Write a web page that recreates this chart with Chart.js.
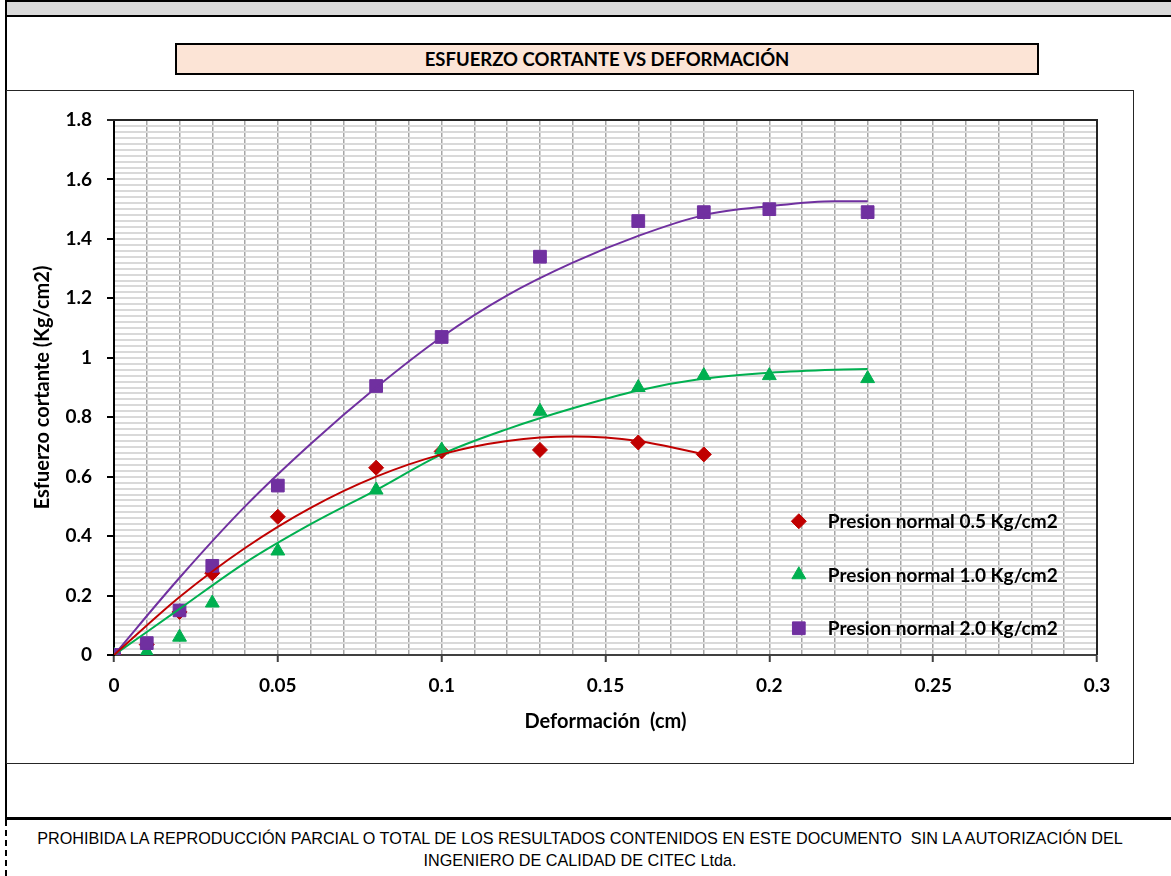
<!DOCTYPE html>
<html>
<head>
<meta charset="utf-8">
<script src="https://cdn.jsdelivr.net/npm/chart.js@4.4.1/dist/chart.umd.min.js"></script>
<style>
  body { margin: 0; background: #fff; width: 1171px; height: 876px; position: relative; overflow: hidden; }
  .abs { position: absolute; box-sizing: border-box; }
  #band { left: 6px; top: 0; width: 1165px; height: 17px; background: #d9d9d9; border-top: 2px solid #000; border-bottom: 2px solid #000; }
  #leftRule { left: 5px; top: 0; width: 2px; height: 820px; background: #000; }
  #leftDash { left: 5px; top: 820px; width: 0; height: 56px; border-left: 2px dashed #000; }
  #titleBox { left: 175px; top: 43px; width: 864px; height: 32px; background: #fce4d6; border: 2px solid #000;
              font: bold 18.5px "Lato", "Liberation Sans", sans-serif; text-align: center; line-height: 28px; color: #000; }
  #chartBox { left: 6px; top: 90px; width: 1128px; height: 674px; border: 1.5px solid #262626; pointer-events: none; }
  #bottomRule { left: 6px; top: 817px; width: 1165px; height: 3px; background: #000; }
  #footer { left: 6px; top: 827px; width: 1148px; font: 16.2px "Liberation Sans", Arial, sans-serif; text-align: center; line-height: 22px; color: #000; }
  #cv { position: absolute; left: 6px; top: 91px; }
</style>
</head>
<body>
<div class="abs" id="band"></div>
<div class="abs" id="leftRule"></div>
<div class="abs" id="leftDash"></div>
<div class="abs" id="titleBox">ESFUERZO CORTANTE VS DEFORMACIÓN</div>
<canvas id="cv" width="1127" height="672"></canvas>
<div class="abs" id="chartBox"></div>
<div class="abs" id="bottomRule"></div>
<div class="abs" id="footer">PROHIBIDA LA REPRODUCCIÓN PARCIAL O TOTAL DE LOS RESULTADOS CONTENIDOS EN ESTE DOCUMENTO &nbsp;SIN LA AUTORIZACIÓN DEL<br>INGENIERO DE CALIDAD DE CITEC Ltda.</div>
<script>
// measured points (deformation cm / shear stress Kg/cm2)
var defRed = [0, 0.01, 0.02, 0.03, 0.05, 0.08, 0.1, 0.13, 0.16, 0.18];
var tauRed = [0, 0.035, 0.145, 0.275, 0.465, 0.63, 0.685, 0.69, 0.715, 0.675];
var defGreen = [0, 0.01, 0.02, 0.03, 0.05, 0.08, 0.1, 0.13, 0.16, 0.18, 0.2, 0.23];
var tauGreen = [0, 0.01, 0.06, 0.175, 0.35, 0.555, 0.69, 0.82, 0.9, 0.94, 0.94, 0.93];
var defPurple = [0, 0.01, 0.02, 0.03, 0.05, 0.08, 0.1, 0.13, 0.16, 0.18, 0.2, 0.23];
var tauPurple = [0, 0.04, 0.15, 0.3, 0.57, 0.905, 1.07, 1.34, 1.46, 1.49, 1.5, 1.49];

// trendline values
var trendRedX = [0, 0.02, 0.04, 0.06, 0.08, 0.1, 0.12, 0.14, 0.16, 0.18];
var trendRedY = [0, 0.195, 0.36, 0.495, 0.6, 0.675, 0.72, 0.735, 0.72, 0.675];
var trendX = [0, 0.02, 0.04, 0.06, 0.08, 0.1, 0.12, 0.14, 0.16, 0.18, 0.2, 0.22, 0.23];
var trendGreenY = [0, 0.155, 0.31, 0.44, 0.555, 0.675, 0.76, 0.83, 0.89, 0.93, 0.95, 0.96, 0.962];
var trendPurpleY = [0, 0.26, 0.5, 0.71, 0.9, 1.07, 1.21, 1.32, 1.41, 1.48, 1.51, 1.527, 1.527];

var seriesNames = ['Presion normal 0.5 Kg/cm2', 'Presion normal 1.0 Kg/cm2', 'Presion normal 2.0 Kg/cm2'];
var colors = ['#c00000', '#00b050', '#7030a0'];
var markers = ['rectRot', 'triangle', 'rect'];
var markerSizes = [7.5, 8, 9];

var xTickLabels = ['0', '0.05', '0.1', '0.15', '0.2', '0.25', '0.3'];
var yTickLabels = ['0', '0.2', '0.4', '0.6', '0.8', '1', '1.2', '1.4', '1.6', '1.8'];

var FONT = '"Lato", "Liberation Sans", sans-serif';

function pts(xs, ys) {
  return xs.map(function(x, i) { return { x: x, y: ys[i] }; });
}

function isMajor(v, step) {
  var r = v / step;
  return Math.abs(r - Math.round(r)) < 1e-6;
}

var pointSets = [pts(defRed, tauRed), pts(defGreen, tauGreen), pts(defPurple, tauPurple)];
var trendSets = [pts(trendRedX, trendRedY), pts(trendX, trendGreenY), pts(trendX, trendPurpleY)];

var datasets = [];
// trendlines drawn on top
trendSets.forEach(function(d, i) {
  datasets.push({
    label: 'trend' + i,
    data: d,
    showLine: true,
    borderColor: colors[i],
    borderWidth: 2,
    pointRadius: 0,
    tension: 0.4,
    cubicInterpolationMode: 'monotone',
    order: 0
  });
});
pointSets.forEach(function(d, i) {
  datasets.push({
    label: seriesNames[i],
    data: d,
    showLine: false,
    pointStyle: markers[i],
    pointRadius: markerSizes[i],
    backgroundColor: colors[i],
    borderColor: colors[i],
    borderWidth: 1,
    order: 3 - i
  });
});

// plot frame (top + right) and the in-plot legend
var framePlugin = {
  id: 'frame',
  beforeDatasetsDraw: function(chart) {
    var a = chart.chartArea, ctx = chart.ctx;
    ctx.save();
    ctx.strokeStyle = '#262626';
    ctx.lineWidth = 2;
    ctx.beginPath();
    ctx.moveTo(a.left - 7, a.top);
    ctx.lineTo(a.right, a.top);
    ctx.lineTo(a.right, a.bottom);
    ctx.stroke();
    ctx.restore();
  },
  afterDraw: function(chart) {
    var ctx = chart.ctx;
    var x0 = chart.scales.x.getPixelForValue(0.209);
    var y0 = chart.scales.y.getPixelForValue(0.45);
    ctx.save();
    ctx.font = 'bold 19px ' + FONT;
    ctx.textBaseline = 'middle';
    seriesNames.forEach(function(name, i) {
      var y = y0 + i * 53.5;
      ctx.fillStyle = colors[i];
      ctx.strokeStyle = colors[i];
      ctx.lineWidth = 1;
      Chart.helpers.drawPoint(ctx, {
        pointStyle: markers[i], radius: markerSizes[i], rotation: 0, borderWidth: 1
      }, x0, y);
      ctx.fillStyle = '#000';
      ctx.fillText(name, x0 + 29, y + 1);
    });
    ctx.restore();
  }
};

new Chart(document.getElementById('cv').getContext('2d'), {
  type: 'scatter',
  data: { datasets: datasets },
  options: {
    responsive: false,
    animation: false,
    layout: { padding: { top: 29, right: 36, left: 0, bottom: 0 } },
    plugins: {
      legend: { display: false },
      tooltip: { enabled: false },
      title: { display: false }
    },
    scales: {
      x: {
        type: 'linear',
        min: 0,
        max: 0.3,
        afterFit: function(s) { s.height = 108; },
        ticks: {
          stepSize: 0.01,
          autoSkip: false,
          maxRotation: 0,
          padding: 12,
          color: '#000',
          font: { family: FONT, size: 19, weight: 'bold' },
          callback: function(v) {
            return isMajor(v, 0.05) ? xTickLabels[Math.round(v / 0.05)] : '';
          }
        },
        grid: {
          color: '#a6a6a6',
          lineWidth: 1.5,
          tickLength: 7,
          tickWidth: 2,
          tickColor: function(c) {
            return c.tick && isMajor(c.tick.value, 0.05) ? '#404040' : 'rgba(0,0,0,0)';
          }
        },
        border: { color: '#404040', width: 2 },
        title: {
          display: true,
          text: 'Deformación  (cm)',
          color: '#000',
          font: { family: FONT, size: 20, weight: 'bold' },
          padding: { top: 0, bottom: 29 }
        }
      },
      y: {
        type: 'linear',
        min: 0,
        max: 1.8,
        afterFit: function(s) { s.width = 108; },
        ticks: {
          stepSize: 0.02,
          maxTicksLimit: 200,
          autoSkip: false,
          padding: 15,
          color: '#000',
          font: { family: FONT, size: 19, weight: 'bold' },
          callback: function(v) {
            return isMajor(v, 0.2) ? yTickLabels[Math.round(v / 0.2)] : '';
          }
        },
        grid: {
          color: '#d9d9d9',
          lineWidth: 2,
          tickLength: 7,
          tickWidth: 2,
          tickColor: function(c) {
            return c.tick && isMajor(c.tick.value, 0.2) ? '#000' : 'rgba(0,0,0,0)';
          }
        },
        border: { color: '#000', width: 2 },
        title: {
          display: true,
          text: 'Esfuerzo cortante (Kg/cm2)',
          color: '#000',
          font: { family: FONT, size: 20, weight: 'bold' },
          padding: { top: 25, bottom: 0 }
        }
      }
    }
  },
  plugins: [framePlugin]
});
</script>
</body>
</html>
